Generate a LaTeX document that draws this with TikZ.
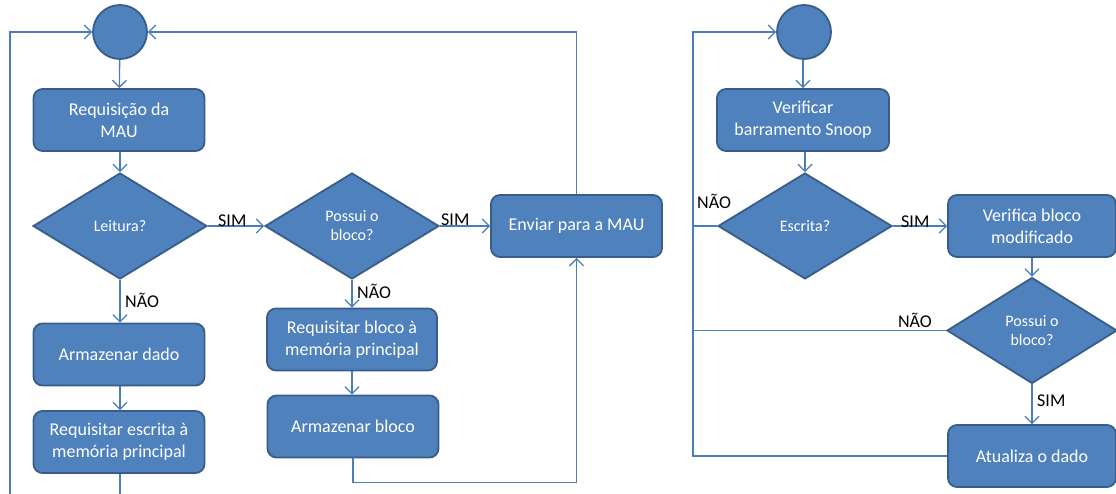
\documentclass[tikz,border=0pt]{standalone}
\usepackage{fontspec}
\setmainfont{Carlito}
\usetikzlibrary{shapes.geometric,arrows.meta}

\definecolor{boxblue}{HTML}{4F81BD}
\definecolor{boxedge}{HTML}{385D8A}
\definecolor{lineblue}{HTML}{4A7EBB}

\tikzset{
    actbox/.style={rectangle, rounded corners=9pt, fill=boxblue, draw=boxedge,
        line width=1.8pt, minimum width=171pt, minimum height=62pt,
        align=center, text=white, font=\fontsize{18}{22}\selectfont},
    decision/.style={diamond, aspect=1.65, fill=boxblue, draw=boxedge,
        line width=1.8pt, minimum width=174pt, minimum height=106pt,
        inner sep=0pt, align=center, text=white, font=\fontsize{16}{19}\selectfont},
    startdot/.style={circle, fill=boxblue, draw=boxedge, line width=1.8pt,
        minimum size=54pt},
    flow/.style={draw=lineblue, line width=1.3pt, ->},
    link/.style={draw=lineblue, line width=1.3pt},
    answer/.style={inner sep=0pt, text=black, font=\fontsize{18}{22}\selectfont}
}

\begin{document}
\begin{tikzpicture}[x=1pt, y=-1pt, >={Straight Barb[length=7pt,width=14pt]}]
    \clip (0,0) rectangle (1116,493);

%Left flow: MAU request

    \node[startdot] (start1) at (120,32) {};
    \node[actbox] (req) at (119,120) {Requisição da\\MAU};
    \node[decision] (leitura) at (120,226) {Leitura?};
    \node[actbox] (armdado) at (119,354.5) {Armazenar dado};
    \node[actbox] (reqesc) at (119,442) {Requisitar escrita à\\memória principal};

    \node[decision] (possui1) at (352,226) {Possui o\\bloco?};
    \node[actbox, minimum width=170pt] (reqbloco) at (352,339.5) {Requisitar bloco à\\memória principal};
    \node[actbox] (armbloco) at (353,426.5) {Armazenar bloco};
    \node[actbox] (enviar) at (576.5,226) {Enviar para a MAU};

    \coordinate (back1) at (10,32);

    \draw[flow] (start1) -- (req);
    \draw[flow] (req.south -| leitura) -- (leitura);
    \draw[flow] (leitura) -- (armdado.north -| leitura);
    \draw[flow] (armdado.south -| leitura) -- (reqesc.north -| leitura);
    \draw[flow] (reqesc.south -| leitura) -- ++(0,30) -| (back1) -- (start1);
    \draw[flow] (leitura) -- (possui1);
    \draw[flow] (possui1) -- (reqbloco);
    \draw[flow] (reqbloco.south -| possui1) -- (armbloco.north -| possui1);
    \draw[flow] (armbloco.south) -- ++(0,24) -| (enviar.south);
    \draw[flow] (possui1) -- (enviar);
    \draw[flow] (enviar.north) |- (start1);

    \node[answer, anchor=base west] (sim1) at (218,226) {SIM};
    \node[answer, anchor=base west] (nao1) at (125,307) {NÃO};
    \node[answer, anchor=base west] (sim2) at (441,225.5) {SIM};
    \node[answer, anchor=base west] (nao2) at (357,298) {NÃO};

%Right flow: snoop bus

    \node[startdot] (start2) at (804,32) {};
    \node[actbox, minimum width=172pt] (verificar) at (803,120) {Verificar\\barramento Snoop};
    \node[decision] (escrita) at (805,226) {Escrita?};
    \node[actbox, minimum width=168pt] (verifica) at (1032,226) {Verifica bloco\\modificado};
    \node[decision, minimum width=170pt] (possui2) at (1032,330.5) {Possui o\\bloco?};
    \node[actbox, minimum width=168pt] (atualiza) at (1032,456) {Atualiza o dado};

    \coordinate (back2) at (693,32);

    \draw[flow] (start2.south -| verificar) -- (verificar);
    \draw[flow] (verificar.south -| escrita) -- (escrita);
    \draw[flow] (escrita) -- (verifica);
    \draw[flow] (verifica) -- (possui2);
    \draw[flow] (possui2) -- (atualiza);
    \draw[flow] (atualiza.west) -| (back2) -- (start2);
    \draw[link] (escrita.west) -- (escrita.west -| back2);
    \draw[link] (possui2.west) -- (possui2.west -| back2);

    \node[answer, anchor=base west] (nao3) at (697,208) {NÃO};
    \node[answer, anchor=base west] (sim3) at (901,227) {SIM};
    \node[answer, anchor=base east] (nao4) at (932,327) {NÃO};
    \node[answer, anchor=base west] (sim4) at (1037,406) {SIM};

\end{tikzpicture}
\end{document}
